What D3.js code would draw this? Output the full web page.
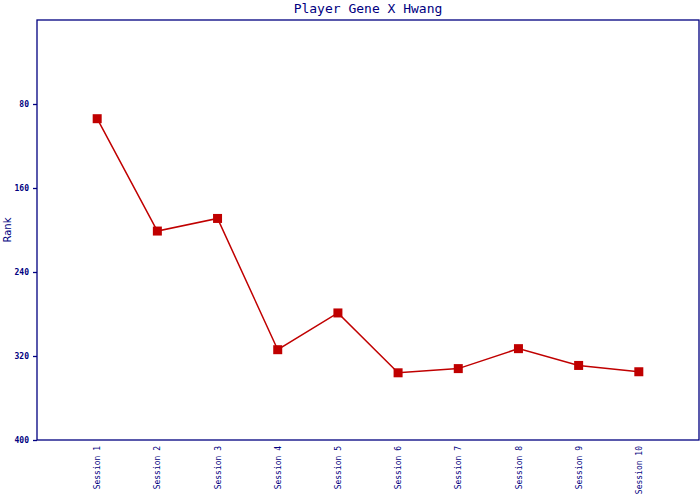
<!DOCTYPE html>
<html><head><meta charset="utf-8">
<script src="https://cdn.jsdelivr.net/npm/d3@7"></script>
<style>body{margin:0;background:#fff}</style>
</head><body>
<script>
const categories = ["Session 1","Session 2","Session 3","Session 4","Session 5","Session 6","Session 7","Session 8","Session 9","Session 10"];
const ranks = [94, 201, 189, 314, 279, 336, 332, 313, 329, 335];
const yTicks = [80, 160, 240, 320, 400];
const title = "Player Gene X Hwang";
const yLabel = "Rank";

const W = 700, H = 500;
const m = {left: 37, right: 1, top: 20, bottom: 60};
const navy = "#000080", red = "#c00000";
const font = "'DejaVu Sans Mono', monospace";

const svg = d3.select("body").append("svg").attr("width", W).attr("height", H);
const x = d3.scalePoint().domain(categories).range([m.left, W - m.right]).padding(1);
const y = d3.scaleLinear().domain([0, 400]).range([m.top, H - m.bottom]);

svg.append("rect").attr("x", m.left).attr("y", m.top)
  .attr("width", W - m.right - m.left).attr("height", H - m.bottom - m.top)
  .attr("fill", "none").attr("stroke", navy).attr("stroke-width", 1.3);

const ya = svg.append("g").attr("transform", `translate(${m.left},0)`)
  .call(d3.axisLeft(y).tickValues(yTicks).tickSize(4).tickPadding(4));
ya.select(".domain").remove();
ya.selectAll("line").attr("stroke", navy).attr("stroke-width", 1.3);
ya.selectAll("text").attr("fill", navy).attr("font-family", font).attr("font-size", 8).attr("font-weight", "bold");

const xa = svg.append("g").attr("transform", `translate(0,${H - m.bottom})`)
  .call(d3.axisBottom(x).tickSize(0));
xa.select(".domain").remove();
xa.selectAll("text").attr("fill", navy).attr("font-family", font).attr("font-size", 8)
  .attr("transform", "rotate(-90)").attr("text-anchor", "end")
  .attr("x", -6).attr("y", 0).attr("dy", "0.32em");

svg.append("text").attr("x", (m.left + W - m.right) / 2).attr("y", 13)
  .attr("text-anchor", "middle").attr("fill", navy).attr("font-family", font).attr("font-size", 13)
  .text(title);

svg.append("text").attr("transform", `translate(11,${(m.top + H - m.bottom) / 2}) rotate(-90)`)
  .attr("text-anchor", "middle").attr("fill", navy).attr("font-family", "'DejaVu Sans', sans-serif").attr("font-size", 10)
  .text(yLabel);

const line = d3.line().x((d, i) => x(categories[i])).y(d => y(d));
svg.append("path").datum(ranks).attr("d", line).attr("fill", "none").attr("stroke", red).attr("stroke-width", 1.5);

svg.selectAll("rect.pt").data(ranks).join("rect").attr("class", "pt")
  .attr("x", (d, i) => x(categories[i]) - 4.5).attr("y", d => y(d) - 4.5)
  .attr("width", 9).attr("height", 9).attr("fill", red);
</script>
</body></html>
